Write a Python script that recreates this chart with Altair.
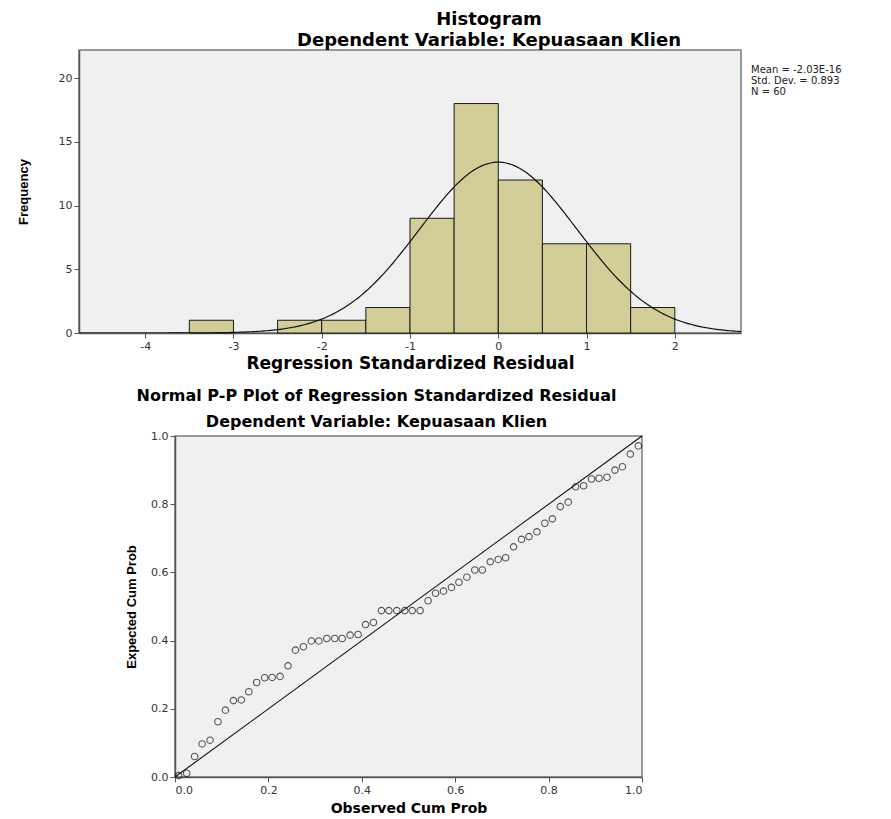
import altair as alt
import pandas as pd
import numpy as np

# ---------------- Histogram data ----------------
bin_starts = [-3.5, -2.5, -2.0, -1.5, -1.0, -0.5, 0.0, 0.5, 1.0, 1.5]
bin_ends = [-3.0, -2.0, -1.5, -1.0, -0.5, 0.0, 0.5, 1.0, 1.5, 2.0]
frequencies = [1, 1, 1, 2, 9, 18, 12, 7, 7, 2]
hist_x_ticks = [-4, -3, -2, -1, 0, 1, 2]
hist_y_ticks = [0, 5, 10, 15, 20]
stat_mean = -2.03e-16
stat_sd = 0.893
stat_n = 60
bin_width = 0.5
stats_lines = ["Mean = -2.03E-16", "Std. Dev. = 0.893", "N = 60"]

# ---------------- P-P plot data ----------------
observed = [0.008, 0.025, 0.042, 0.058, 0.075, 0.092, 0.108, 0.125, 0.142, 0.158,
            0.175, 0.192, 0.208, 0.225, 0.242, 0.258, 0.275, 0.292, 0.308, 0.325,
            0.342, 0.358, 0.375, 0.392, 0.408, 0.425, 0.442, 0.458, 0.475, 0.492,
            0.508, 0.525, 0.542, 0.558, 0.575, 0.592, 0.608, 0.625, 0.642, 0.658,
            0.675, 0.692, 0.708, 0.725, 0.742, 0.758, 0.775, 0.792, 0.808, 0.825,
            0.842, 0.858, 0.875, 0.892, 0.908, 0.925, 0.942, 0.958, 0.975, 0.992]
expected = [0.004, 0.011, 0.060, 0.097, 0.108, 0.162, 0.196, 0.224, 0.226, 0.250,
            0.277, 0.291, 0.292, 0.295, 0.326, 0.372, 0.382, 0.399, 0.399, 0.406,
            0.406, 0.406, 0.416, 0.418, 0.447, 0.453, 0.488, 0.488, 0.488, 0.488,
            0.488, 0.488, 0.517, 0.539, 0.545, 0.556, 0.571, 0.586, 0.607, 0.607,
            0.631, 0.638, 0.643, 0.675, 0.697, 0.705, 0.719, 0.744, 0.757, 0.793,
            0.806, 0.851, 0.854, 0.874, 0.876, 0.879, 0.900, 0.910, 0.947, 0.971]
pp_ticks = [0.0, 0.2, 0.4, 0.6, 0.8, 1.0]
diagonal = [0.0, 1.0]

title_top = "Histogram"
subtitle = "Dependent Variable: Kepuasaan Klien"
title_pp = "Normal P-P Plot of Regression Standardized Residual"

BAR_FILL = "#d3ce97"
BG = "#f0f0f0"
FRAME = "#7a7a7a"
FONT = "DejaVu Sans"

# ---------------- Histogram ----------------
hist_df = pd.DataFrame({"start": bin_starts, "end": bin_ends, "freq": frequencies})
curve_x = np.linspace(-4.75, 2.75, 301)
curve_y = stat_n * bin_width * np.exp(-0.5 * ((curve_x - stat_mean) / stat_sd) ** 2) / (stat_sd * np.sqrt(2 * np.pi))
curve_df = pd.DataFrame({"start": curve_x, "freq": curve_y})

hx = alt.Scale(domain=[-4.75, 2.75], nice=False, zero=False)
hy = alt.Scale(domain=[0, 22.2], nice=False)

hx_axis = alt.Axis(values=hist_x_ticks, title="Regression Standardized Residual",
                   titleFont=FONT, titleFontSize=17, titleFontWeight="bold",
                   titlePadding=4, labelExpr="'' + datum.value")
hy_axis = alt.Axis(values=hist_y_ticks, title="Frequency",
                   titleFont="Liberation Sans Narrow, Liberation Sans", titleFontSize=13,
                   titleFontWeight="bold", titlePadding=28, format="d")

bars = alt.Chart(hist_df).mark_rect(fill=BAR_FILL, stroke="#1a1a1a", strokeWidth=1).encode(
    x=alt.X("start:Q", scale=hx, axis=hx_axis),
    x2="end:Q",
    y=alt.Y("freq:Q", scale=hy, axis=hy_axis),
    y2=alt.datum(0),
)
curve = alt.Chart(curve_df).mark_line(color="#111111", strokeWidth=1.2, clip=True).encode(
    x="start:Q", y="freq:Q"
)
stats_df = pd.DataFrame({"t": ["\n".join(stats_lines)]})
stats = alt.Chart(stats_df).mark_text(
    align="left", baseline="top", lineBreak="\n", font=FONT, fontSize=10,
    lineHeight=11, color="#222222"
).encode(x=alt.value(672), y=alt.value(15), text="t:N")

top = alt.layer(bars, curve, stats).properties(
    width=662, height=283,
    title=alt.TitleParams(
        text=title_top, subtitle=subtitle, font=FONT, fontSize=18, fontWeight="bold",
        color="black", subtitleFont=FONT, subtitleFontSize=18, subtitleFontWeight="bold",
        subtitleColor="black", anchor="middle", frame="group", dx=79, offset=0,
        subtitlePadding=3,
    ),
)

# ---------------- P-P plot ----------------
pp_df = pd.DataFrame({"obs": observed, "exp": expected})
diag_df = pd.DataFrame({"obs": diagonal, "exp": diagonal})
px = alt.Scale(domain=[0, 1], nice=False)
py = alt.Scale(domain=[0, 1], nice=False)
px_axis = alt.Axis(values=pp_ticks, format=".1f", title="Observed Cum Prob",
                   titleFont=FONT, titleFontSize=14, titleFontWeight="bold", titlePadding=6)
py_axis = alt.Axis(values=pp_ticks, format=".1f", title="Expected Cum Prob",
                   titleFont="Liberation Sans", titleFontSize=13, titleFontWeight="bold",
                   titlePadding=12)

diag_line = alt.Chart(diag_df).mark_line(color="#111111", strokeWidth=1.1).encode(
    x=alt.X("obs:Q", scale=px, axis=px_axis),
    y=alt.Y("exp:Q", scale=py, axis=py_axis),
)
points = alt.Chart(pp_df).mark_point(shape="circle", filled=False, color="#111111",
                                     size=42, strokeWidth=1.1).encode(
    x="obs:Q", y="exp:Q"
)
pp = alt.layer(diag_line, points).properties(
    width=467, height=341,
    title=alt.TitleParams(
        text=title_pp, subtitle=subtitle, font=FONT, fontSize=16, fontWeight="bold",
        color="black", subtitleFont=FONT, subtitleFontSize=16, subtitleFontWeight="bold",
        subtitleColor="black", anchor="middle", frame="group", dx=-32, offset=0,
        subtitlePadding=10,
    ),
)

spacer = alt.Chart(pd.DataFrame({"t": [""]})).mark_text().encode(
    x=alt.value(0), y=alt.value(0), text="t:N"
).properties(width=44, height=341, view=alt.ViewBackground(fill="transparent", stroke="transparent"))

bottom = alt.hconcat(spacer, pp, spacing=0)

chart = alt.vconcat(top, bottom, spacing=15).properties(
    padding={"left": 8, "top": 2, "right": 0, "bottom": 0}
).configure_view(
    fill=BG, stroke=FRAME, strokeWidth=1.5
).configure_axis(
    grid=False, domainColor="#555555", domainWidth=1.5, tickColor="#555555",
    tickSize=5, labelColor="#333333", labelFont=FONT, labelFontSize=11,
    titleColor="black", labelPadding=2
)

chart.save("out.html", embed_options={"renderer": "svg", "actions": False})
